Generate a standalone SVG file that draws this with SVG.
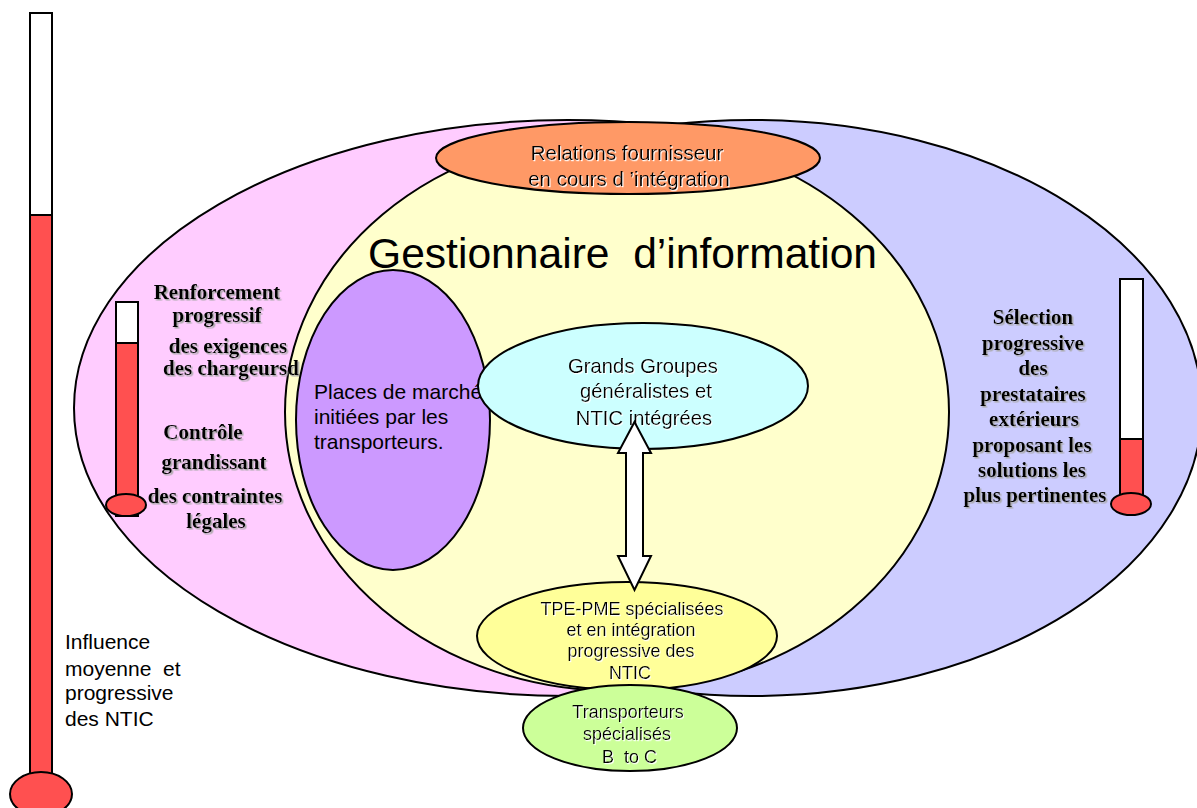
<svg xmlns="http://www.w3.org/2000/svg" width="1197" height="808" viewBox="0 0 1197 808">
<defs>
<filter id="gshadow" x="-10%" y="-20%" width="120%" height="140%">
<feDropShadow dx="1.5" dy="1.5" stdDeviation="0.3" flood-color="#a8a8a8" flood-opacity="1"/>
</filter>
<filter id="wshadow" x="-10%" y="-20%" width="120%" height="140%">
<feDropShadow dx="1" dy="1.2" stdDeviation="0.2" flood-color="#ffffff" flood-opacity="1"/>
</filter>
</defs>
<style>
.sh{stroke:#000;stroke-width:2}
.red{fill:#ff5050}
.wht{fill:#ffffff}
.serif{font-family:"Liberation Serif","Times New Roman",serif;font-weight:bold;font-size:21px;fill:#000;text-anchor:middle}
.sans{font-family:"Liberation Sans",Arial,sans-serif;fill:#000;white-space:pre}
.mid{text-anchor:middle}
</style>
<rect width="1197" height="808" fill="#ffffff"/>

<g id="thermo-ntic">
<rect class="sh wht" x="30" y="13" width="22" height="202"/>
<rect class="sh red" x="30" y="215" width="22" height="570"/>
<ellipse class="sh red" cx="41" cy="794" rx="31" ry="22"/>
</g>

<g id="zone-chargeurs">
<ellipse class="sh" fill="#ffccff" cx="568" cy="408" rx="494" ry="288"/>
</g>
<g id="zone-prestataires">
<ellipse class="sh" fill="#ccccff" cx="752" cy="408" rx="450" ry="288"/>
</g>
<g id="gestionnaire">
<ellipse class="sh" fill="#ffffcc" cx="617" cy="412" rx="332" ry="279"/>
<text class="sans" x="368" y="268" font-size="42.6" xml:space="preserve">Gestionnaire  d’information</text>
</g>
<g id="relations">
<ellipse class="sh" fill="#ff9966" cx="628" cy="158" rx="192" ry="36"/>
<g filter="url(#wshadow)">
<text class="sans mid" x="627" y="160" font-size="20.5">Relations fournisseur</text>
<text class="sans mid" x="629" y="186" font-size="20.5">en cours d ’intégration</text>
</g>
</g>

<g id="thermo-chargeurs">
<rect class="sh wht" x="116" y="302" width="22" height="41"/>
<rect class="sh red" x="116" y="343" width="22" height="173"/>
<ellipse class="sh red" cx="126" cy="505" rx="20" ry="11"/>
</g>
<g id="texte-chargeurs" filter="url(#gshadow)">
<text class="serif" x="217" y="299">Renforcement</text>
<text class="serif" x="217" y="322">progressif</text>
<text class="serif" x="228" y="353">des exigences</text>
<text class="serif" x="231" y="375">des chargeursd</text>
<text class="serif" x="203" y="439">Contrôle</text>
<text class="serif" x="214" y="469">grandissant</text>
<text class="serif" x="215" y="503">des contraintes</text>
<text class="serif" x="216" y="528">légales</text>
</g>

<g id="thermo-prestataires">
<rect class="sh wht" x="1120" y="279" width="23" height="160"/>
<rect class="sh red" x="1120" y="439" width="23" height="66"/>
<ellipse class="sh red" cx="1131" cy="504" rx="20" ry="11"/>
</g>
<g id="texte-prestataires" filter="url(#gshadow)">
<text class="serif" x="1033" y="324">Sélection</text>
<text class="serif" x="1033" y="350">progressive</text>
<text class="serif" x="1033" y="375">des</text>
<text class="serif" x="1033" y="401">prestataires</text>
<text class="serif" x="1034" y="426">extérieurs</text>
<text class="serif" x="1032" y="452">proposant les</text>
<text class="serif" x="1032" y="477">solutions les</text>
<text class="serif" x="1035" y="502">plus pertinentes</text>
</g>

<g id="places-de-marche">
<ellipse class="sh" fill="#cc99ff" cx="393" cy="420" rx="97" ry="150"/>
<text class="sans" x="314" y="399" font-size="21">Places de marché</text>
<text class="sans" x="314" y="424" font-size="21">initiées par les</text>
<text class="sans" x="314" y="449" font-size="21">transporteurs.</text>
</g>

<g id="grands-groupes">
<ellipse class="sh" fill="#ccffff" cx="643" cy="386" rx="165" ry="63"/>
<g filter="url(#wshadow)">
<text class="sans mid" x="643" y="373" font-size="20.3">Grands Groupes</text>
<text class="sans mid" x="646" y="398" font-size="20.3">généralistes et</text>
<text class="sans mid" x="644" y="425" font-size="20.3">NTIC intégrées</text>
</g>
</g>

<g id="tpe-pme">
<ellipse class="sh" fill="#ffff99" cx="627" cy="636" rx="150" ry="54"/>
<g filter="url(#wshadow)">
<text class="sans mid" x="632" y="615" font-size="18">TPE-PME spécialisées</text>
<text class="sans mid" x="631" y="636" font-size="18">et en intégration</text>
<text class="sans mid" x="631" y="657" font-size="18">progressive des</text>
<text class="sans mid" x="630" y="679" font-size="18">NTIC</text>
</g>
</g>

<g id="connecteurs">
<polygon class="sh" fill="#ffffff" stroke-linejoin="miter" points="634.5,422 651,453 643,453 643,556 651,556 634.5,590 618,556 626,556 626,453 618,453"/>
</g>

<g id="transporteurs-btoc">
<ellipse class="sh" fill="#ccff99" cx="630" cy="728" rx="107" ry="43"/>
<g filter="url(#wshadow)">
<text class="sans mid" x="628" y="718" font-size="18">Transporteurs</text>
<text class="sans mid" x="627" y="740" font-size="18">spécialisés</text>
<text class="sans" x="602" y="763" font-size="18" xml:space="preserve">B  to C</text>
</g>
</g>

<g id="legende-ntic">
<text class="sans" x="65" y="649" font-size="21">Influence</text>
<text class="sans" x="65" y="676" font-size="21" xml:space="preserve">moyenne  et</text>
<text class="sans" x="65" y="700" font-size="21">progressive</text>
<text class="sans" x="65" y="726" font-size="21">des NTIC</text>
</g>
</svg>
